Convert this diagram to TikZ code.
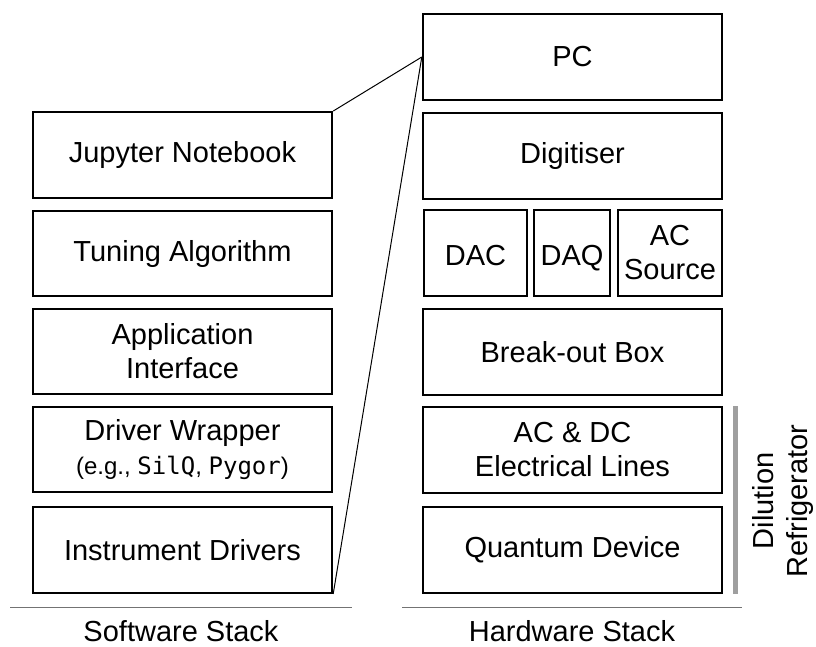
\documentclass[tikz,border=0pt]{standalone}
\usepackage{fontspec}
\setmainfont{Liberation Sans}
\setmonofont{DejaVu Sans Mono}

\tikzset{
  layer/.style={draw, line width=2.4pt, minimum width=299pt, minimum height=85.5pt, align=center, inner sep=0pt},
  unit/.style={layer, minimum width=#1},
  oneline/.style={text height=25pt, text depth=0pt},
}

\begin{document}
\begin{tikzpicture}[x=1pt, y=-1pt, every node/.style={font=\fontsize{29}{34}\selectfont}]
  \useasboundingbox (0,0) rectangle (816,646);

  % software stack
  \node[layer] (jupyter) at (182.5,155) {Jupyter Notebook};
  \node[layer] (tuning) at (182.5,253.5) {Tuning Algorithm};
  \node[layer] (api) at (182.5,351.5) {Application\\Interface};
  \node[layer] (wrapper) at (182.5,449.5) {Driver Wrapper\\{\fontsize{24}{28}\selectfont(e.g., \texttt{SilQ}, \texttt{Pygor})}};
  \node[layer] (drivers) at (182.5,550) {Instrument Drivers};

  % hardware stack
  \node[layer] (pc) at (572.5,57) {PC};
  \node[layer] (digitiser) at (572.5,156) {Digitiser};
  \node[unit=102.5pt, oneline] (dac) at (475.5,253) {DAC};
  \node[unit=75.5pt, oneline] (daq) at (572,253) {DAQ};
  \node[unit=103.5pt] (acsource) at (670,253) {AC\\Source};
  \node[layer] (breakout) at (572.5,352) {Break-out Box};
  \node[layer] (lines) at (572.5,450) {AC \& DC\\Electrical Lines};
  \node[layer] (device) at (572.5,550) {Quantum Device};

  \draw[line width=1pt] (jupyter.north east) -- (pc.west);
  \draw[line width=1pt] (drivers.south east) -- (pc.west);

  % fridge bracket
  \draw[gray!75, line width=5pt] ([xshift=12pt]lines.north east) -- ([xshift=12pt]device.south east);
  \node[rotate=90, align=center] (fridge) at (783,501) {Dilution\\Refrigerator};

  \draw[gray!90!black, line width=1pt] (10,607) -- (352,607);
  \draw[gray!90!black, line width=1pt] (402,607) -- (742,607);
  \node (swlabel) at (181,631) {Software Stack};
  \node (hwlabel) at (572,631) {Hardware Stack};
\end{tikzpicture}
\end{document}
